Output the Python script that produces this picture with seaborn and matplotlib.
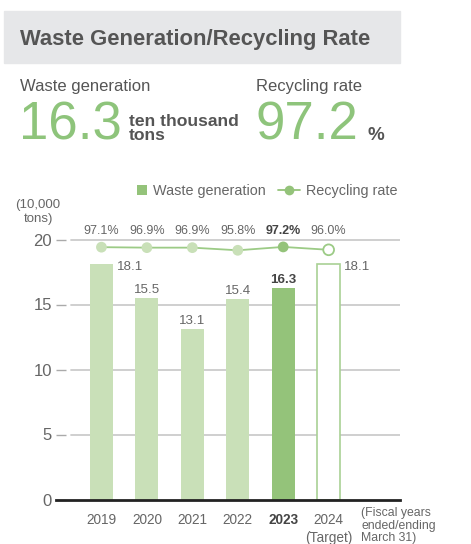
import matplotlib
matplotlib.use("Agg")
import matplotlib.pyplot as plt
import matplotlib.transforms as mtransforms
from matplotlib.patches import Rectangle
from matplotlib.lines import Line2D
import seaborn as sns
import pandas as pd

# ---- data ----
years = ["2019", "2020", "2021", "2022", "2023", "2024"]
year_labels = ["2019", "2020", "2021", "2022", "2023", "2024\n(Target)"]
waste = [18.1, 15.5, 13.1, 15.4, 16.3, 18.1]          # ten thousand tons
rate = [97.1, 96.9, 96.9, 95.8, 97.2, 96.0]            # %
y_ticks = [0, 5, 10, 15, 20]
headline_waste = "16.3"
headline_rate = "97.2"

# ---- style ----
sns.set_theme(style="white")
REG = ["Liberation Sans", "DejaVu Sans"]
plt.rcParams["font.family"] = REG

GRAY = "#666666"
DARK = "#444444"
LIGHT_GREEN = "#c9e0b8"
MID_GREEN = "#94c37a"
LINE_GREEN = "#9ccb86"
EDGE_GREEN = "#a9d195"
BIG_GREEN = "#8ec47b"
GRID = "#cccccc"

W, H = 471, 544
fig = plt.figure(figsize=(W / 100, H / 100), dpi=100)


def fx(px):
    return px / W


def fy(py):
    return 1 - py / H


# ---- header ----
fig.patches.append(Rectangle((fx(4), fy(63)), fx(400) - fx(4), fy(11) - fy(63),
                             transform=fig.transFigure, color="#e6e7e9", zorder=0))
fig.text(fx(20), fy(45.5), "Waste Generation/Recycling Rate", fontsize=15.8,
         fontweight="bold", color="#555555", va="baseline")

fig.text(fx(20), fy(91), "Waste generation", fontsize=12, color="#555555",
         va="baseline")
fig.text(fx(256), fy(91), "Recycling rate", fontsize=12, color="#555555",
         va="baseline")
fig.text(fx(19), fy(140), headline_waste, fontsize=38, color=BIG_GREEN,
         va="baseline")
fig.text(fx(129), fy(140), "ten thousand\ntons", fontsize=12.6,
         fontweight="bold", color="#555555", va="baseline", linespacing=0.9)
fig.text(fx(255), fy(140), headline_rate, fontsize=38, color=BIG_GREEN,
         va="baseline")
fig.text(fx(367), fy(140), "%", fontsize=13.5, fontweight="bold",
         color="#555555", va="baseline")

# ---- chart axes ----
ax = fig.add_axes([fx(56), fy(499.5), (400 - 56) / W, (499.5 - 233) / H])

df = pd.DataFrame({"year": years, "waste": waste})
bar_colors = [LIGHT_GREEN] * 4 + [MID_GREEN, "white"]
sns.barplot(data=df, x="year", y="waste", hue="year", palette=bar_colors,
            width=0.51, saturation=1, legend=False, ax=ax, zorder=2)
bars = ax.patches
bars[-1].set_edgecolor(EDGE_GREEN)
bars[-1].set_linewidth(1.2)
for b in bars[:-1]:
    b.set_linewidth(0)

ax.set_xlim(-1.0, 6.57)
ax.set_ylim(0, 20.5)
ax.set_xlabel("")
ax.set_ylabel("")

for t in y_ticks[1:]:
    ax.axhline(t, xmin=15 / 344, xmax=1, color=GRID, lw=1.3, zorder=0.5)

for s in ["left", "right", "top"]:
    ax.spines[s].set_visible(False)
ax.spines["bottom"].set_color("#222222")
ax.spines["bottom"].set_linewidth(2)
ax.spines["bottom"].set_zorder(5)

ax.set_yticks(y_ticks)
ax.tick_params(axis="y", direction="in", length=7.5, width=1, color="#aaaaaa",
               pad=3, labelsize=12, labelcolor=GRAY)

ax.set_xticks(range(len(years)), year_labels)
ax.tick_params(axis="x", length=0, pad=9.5, labelsize=9.8, labelcolor=GRAY)
for lbl in ax.get_xticklabels():
    lbl.set_linespacing(1.4)
xl = ax.get_xticklabels()
xl[4].set_fontweight("bold")
xl[4].set_color(DARK)

# bar value labels
for i, v in enumerate(waste):
    bold = i == 4
    kw = dict(fontsize=9.6, color=DARK if bold else GRAY,
              fontweight="bold" if bold else "normal")
    if i in (0, len(waste) - 1):
        ax.annotate(f"{v:.1f}", (i + 0.255, v), xytext=(3, -2),
                    textcoords="offset points", ha="left", va="center", **kw)
    else:
        ax.annotate(f"{v:.1f}", (i, v), xytext=(0, 1.5),
                    textcoords="offset points", ha="center", va="bottom", **kw)

# ---- recycling rate line ----
ax2 = ax.twinx()
ax2.set_ylim(-8.0, 103.0)
sns.lineplot(x=list(range(len(rate))), y=rate, ax=ax2, color=LINE_GREEN,
             lw=1.3, zorder=3)
pt_face = [LIGHT_GREEN] * 4 + [MID_GREEN, "white"]
pt_edge = [LIGHT_GREEN] * 4 + [MID_GREEN, LINE_GREEN]
ax2.scatter(range(len(rate)), rate, s=60, c=pt_face, edgecolors=pt_edge,
            linewidths=[0, 0, 0, 0, 0, 1.3], zorder=4)
ax2.set_xlim(-1.0, 6.57)
ax2.axis("off")

blend = mtransforms.blended_transform_factory(ax2.transData, ax2.transAxes)
for i, r in enumerate(rate):
    bold = i == 4
    ax2.text(i, 1.006, f"{r:.1f}%", transform=blend, ha="center", va="center",
             fontsize=9, color=DARK if bold else GRAY,
             fontweight="bold" if bold else "normal", clip_on=False)

# ---- legend and notes ----
sq = Line2D([], [], marker="s", linestyle="none", markersize=7.3,
            markerfacecolor=MID_GREEN, markeredgewidth=0)
ln = Line2D([], [], marker="o", color=MID_GREEN, lw=1.3, markersize=7,
            markeredgewidth=0)
leg_kw = dict(loc="center left", frameon=False, fontsize=10.4,
              borderpad=0, borderaxespad=0, handletextpad=0.42,
              labelcolor=GRAY)
fig.legend([sq], ["Waste generation"], bbox_to_anchor=(fx(137), fy(191)),
           handlelength=0.7, **leg_kw)
fig.legend([ln], ["Recycling rate"], bbox_to_anchor=(fx(278), fy(191)),
           handlelength=1.53, **leg_kw)

fig.text(fx(38), fy(212), "(10,000\ntons)", ha="center", va="center",
         fontsize=9.5, linespacing=1.3, color=GRAY)
fig.text(fx(361), fy(507), "(Fiscal years\nended/ending\nMarch 31)", ha="left",
         va="top", fontsize=8.8, linespacing=1.08, color=GRAY)

fig.savefig("out.png", dpi=100)
